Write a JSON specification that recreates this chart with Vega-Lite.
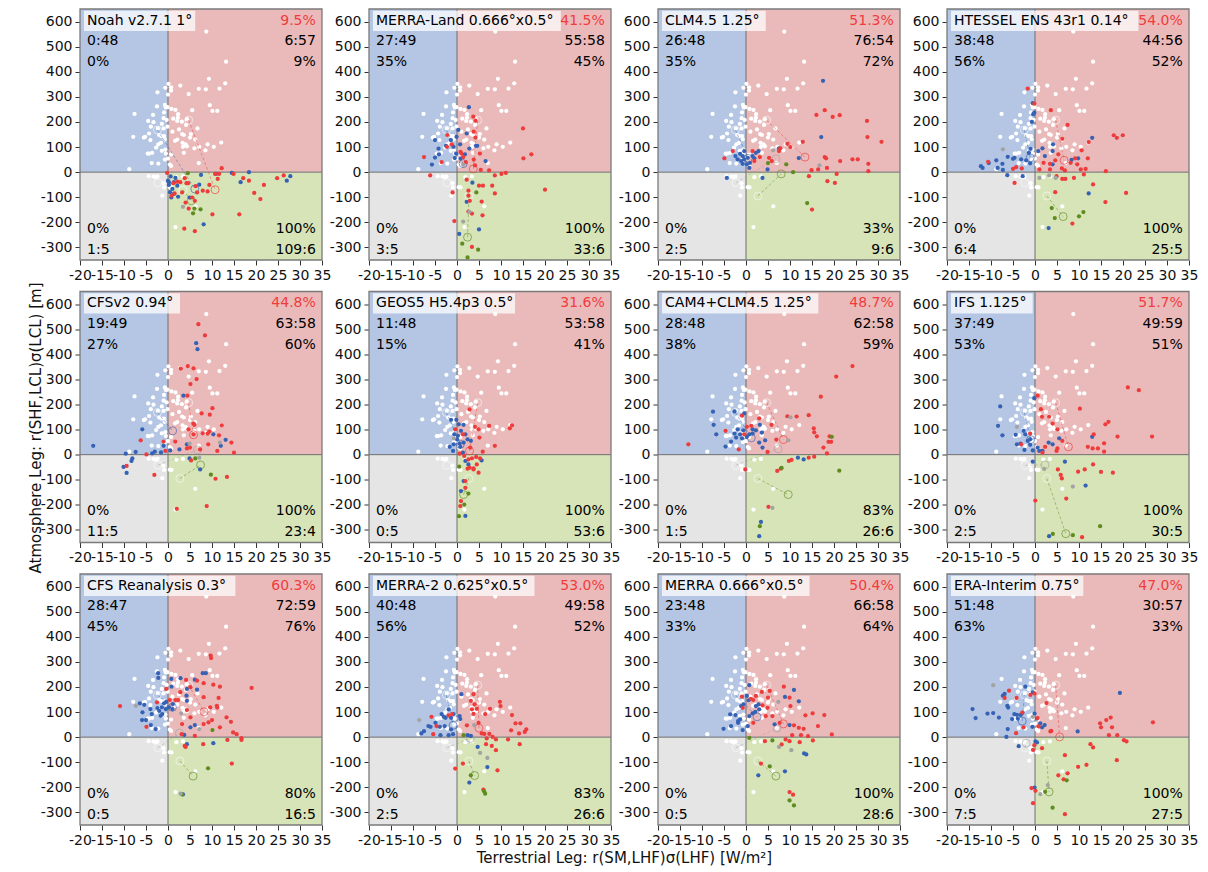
{
"$schema":"https://vega.github.io/schema/vega-lite/v6.json",
"padding":{"left":28,"top":8,"right":5,"bottom":5},
"background":"white",
"title":{"text":"Terrestrial Leg: r(SM,LHF)σ(LHF) [W/m²]","orient":"bottom","anchor":"middle","fontSize":15,"fontWeight":"normal","font":"DejaVu Sans","color":"#111","offset":4,"dx":11},
"data":{"values":[
{"ps":[1],"k":"a","n":"Noah v2.7.1 1°","rp":"9.5%","a1":"0:48","a2":"0%","b1":"6:57","b2":"9%","c1":"0%","c2":"1:5","d1":"100%","d2":"109:6"},
{"ps":[2],"k":"a","n":"MERRA-Land 0.666°x0.5°","rp":"41.5%","a1":"27:49","a2":"35%","b1":"55:58","b2":"45%","c1":"0%","c2":"3:5","d1":"100%","d2":"33:6"},
{"ps":[3],"k":"a","n":"CLM4.5 1.25°","rp":"51.3%","a1":"26:48","a2":"35%","b1":"76:54","b2":"72%","c1":"0%","c2":"2:5","d1":"33%","d2":"9:6"},
{"ps":[4],"k":"a","n":"HTESSEL ENS 43r1 0.14°","rp":"54.0%","a1":"38:48","a2":"56%","b1":"44:56","b2":"52%","c1":"0%","c2":"6:4","d1":"100%","d2":"25:5"},
{"ps":[5],"k":"a","n":"CFSv2 0.94°","rp":"44.8%","a1":"19:49","a2":"27%","b1":"63:58","b2":"60%","c1":"0%","c2":"11:5","d1":"100%","d2":"23:4"},
{"ps":[6],"k":"a","n":"GEOS5 H5.4p3 0.5°","rp":"31.6%","a1":"11:48","a2":"15%","b1":"53:58","b2":"41%","c1":"0%","c2":"0:5","d1":"100%","d2":"53:6"},
{"ps":[7],"k":"a","n":"CAM4+CLM4.5 1.25°","rp":"48.7%","a1":"28:48","a2":"38%","b1":"62:58","b2":"59%","c1":"0%","c2":"1:5","d1":"83%","d2":"26:6"},
{"ps":[8],"k":"a","n":"IFS 1.125°","rp":"51.7%","a1":"37:49","a2":"53%","b1":"49:59","b2":"51%","c1":"0%","c2":"2:5","d1":"100%","d2":"30:5"},
{"ps":[9],"k":"a","n":"CFS Reanalysis 0.3°","rp":"60.3%","a1":"28:47","a2":"45%","b1":"72:59","b2":"76%","c1":"0%","c2":"0:5","d1":"80%","d2":"16:5"},
{"ps":[10],"k":"a","n":"MERRA-2 0.625°x0.5°","rp":"53.0%","a1":"40:48","a2":"56%","b1":"49:58","b2":"52%","c1":"0%","c2":"2:5","d1":"83%","d2":"26:6"},
{"ps":[11],"k":"a","n":"MERRA 0.666°x0.5°","rp":"50.4%","a1":"23:48","a2":"33%","b1":"66:58","b2":"64%","c1":"0%","c2":"0:5","d1":"100%","d2":"28:6"},
{"ps":[12],"k":"a","n":"ERA-Interim 0.75°","rp":"47.0%","a1":"51:48","a2":"63%","b1":"30:57","b2":"33%","c1":"0%","c2":"7:5","d1":"100%","d2":"27:5"},
{"ps":[1,2,3,4,5,6,7,8,9,10,11,12],"k":"w","x":8.7,"y":560},{"ps":[1,2,3,4,5,6,7,8,9,10,11,12],"k":"w","x":13.2,"y":440},{"ps":[1,2,3,4,5,6,7,8,9,10,11,12],"k":"w","x":9.3,"y":372},{"ps":[1,2,3,4,5,6,7,8,9,10,11,12],"k":"w","x":13.0,"y":354},{"ps":[1,2,3,4,5,6,7,8,9,10,11,12],"k":"w","x":11.7,"y":333},{"ps":[1,2,3,4,5,6,7,8,9,10,11,12],"k":"w","x":7.0,"y":332},{"ps":[1,2,3,4,5,6,7,8,9,10,11,12],"k":"w","x":8.6,"y":330},{"ps":[1,2,3,4,5,6,7,8,9,10,11,12],"k":"w","x":2.8,"y":345},{"ps":[1,2,3,4,5,6,7,8,9,10,11,12],"k":"w","x":0.1,"y":352},{"ps":[1,2,3,4,5,6,7,8,9,10,11,12],"k":"w","x":0.7,"y":338},
{"ps":[1,2,3,4,5,6,7,8,9,10,11,12],"k":"w","x":-0.6,"y":336},{"ps":[1,2,3,4,5,6,7,8,9,10,11,12],"k":"w","x":-2.4,"y":318},{"ps":[1,2,3,4,5,6,7,8,9,10,11,12],"k":"w","x":0.0,"y":309},{"ps":[1,2,3,4,5,6,7,8,9,10,11,12],"k":"w","x":4.7,"y":311},{"ps":[1,2,3,4,5,6,7,8,9,10,11,12],"k":"w","x":0.7,"y":325},{"ps":[1,2,3,4,5,6,7,8,9,10,11,12],"k":"w","x":9.5,"y":267},{"ps":[1,2,3,4,5,6,7,8,9,10,11,12],"k":"w","x":10.1,"y":244},{"ps":[1,2,3,4,5,6,7,8,9,10,11,12],"k":"w","x":11.2,"y":244},{"ps":[1,2,3,4,5,6,7,8,9,10,11,12],"k":"w","x":-7.6,"y":232},{"ps":[1,2,3,4,5,6,7,8,9,10,11,12],"k":"w","x":-2.5,"y":262},
{"ps":[1,2,3,4,5,6,7,8,9,10,11,12],"k":"w","x":-0.7,"y":268},{"ps":[1,2,3,4,5,6,7,8,9,10,11,12],"k":"w","x":-0.5,"y":258},{"ps":[1,2,3,4,5,6,7,8,9,10,11,12],"k":"w","x":-0.1,"y":259},{"ps":[1,2,3,4,5,6,7,8,9,10,11,12],"k":"w","x":-3.4,"y":228},{"ps":[1,2,3,4,5,6,7,8,9,10,11,12],"k":"w","x":-0.9,"y":238},{"ps":[1,2,3,4,5,6,7,8,9,10,11,12],"k":"w","x":0.8,"y":252},{"ps":[1,2,3,4,5,6,7,8,9,10,11,12],"k":"w","x":1.7,"y":248},{"ps":[1,2,3,4,5,6,7,8,9,10,11,12],"k":"w","x":2.3,"y":231},{"ps":[1,2,3,4,5,6,7,8,9,10,11,12],"k":"w","x":5.5,"y":247},{"ps":[1,2,3,4,5,6,7,8,9,10,11,12],"k":"w","x":-1.0,"y":215},
{"ps":[1,2,3,4,5,6,7,8,9,10,11,12],"k":"w","x":-0.3,"y":208},{"ps":[1,2,3,4,5,6,7,8,9,10,11,12],"k":"w","x":-4.5,"y":204},{"ps":[1,2,3,4,5,6,7,8,9,10,11,12],"k":"w","x":-3.3,"y":199},{"ps":[1,2,3,4,5,6,7,8,9,10,11,12],"k":"w","x":-3.9,"y":181},{"ps":[1,2,3,4,5,6,7,8,9,10,11,12],"k":"w","x":1.2,"y":213},{"ps":[1,2,3,4,5,6,7,8,9,10,11,12],"k":"w","x":2.1,"y":204},{"ps":[1,2,3,4,5,6,7,8,9,10,11,12],"k":"w","x":4.3,"y":211},{"ps":[1,2,3,4,5,6,7,8,9,10,11,12],"k":"w","x":4.1,"y":188},{"ps":[1,2,3,4,5,6,7,8,9,10,11,12],"k":"w","x":-2.3,"y":174},{"ps":[1,2,3,4,5,6,7,8,9,10,11,12],"k":"w","x":-1.4,"y":192},
{"ps":[1,2,3,4,5,6,7,8,9,10,11,12],"k":"w","x":-1.0,"y":174},{"ps":[1,2,3,4,5,6,7,8,9,10,11,12],"k":"w","x":-0.1,"y":181},{"ps":[1,2,3,4,5,6,7,8,9,10,11,12],"k":"w","x":2.5,"y":170},{"ps":[1,2,3,4,5,6,7,8,9,10,11,12],"k":"w","x":1.0,"y":161},{"ps":[1,2,3,4,5,6,7,8,9,10,11,12],"k":"w","x":-4.3,"y":154},{"ps":[1,2,3,4,5,6,7,8,9,10,11,12],"k":"w","x":-5.2,"y":141},{"ps":[1,2,3,4,5,6,7,8,9,10,11,12],"k":"w","x":-5.5,"y":138},{"ps":[1,2,3,4,5,6,7,8,9,10,11,12],"k":"w","x":-7.9,"y":141},{"ps":[1,2,3,4,5,6,7,8,9,10,11,12],"k":"w","x":-2.0,"y":148},{"ps":[1,2,3,4,5,6,7,8,9,10,11,12],"k":"w","x":-0.9,"y":144},
{"ps":[1,2,3,4,5,6,7,8,9,10,11,12],"k":"w","x":3.2,"y":152},{"ps":[1,2,3,4,5,6,7,8,9,10,11,12],"k":"w","x":3.6,"y":148},{"ps":[1,2,3,4,5,6,7,8,9,10,11,12],"k":"w","x":5.2,"y":152},{"ps":[1,2,3,4,5,6,7,8,9,10,11,12],"k":"w","x":6.7,"y":174},{"ps":[1,2,3,4,5,6,7,8,9,10,11,12],"k":"w","x":5.0,"y":138},{"ps":[1,2,3,4,5,6,7,8,9,10,11,12],"k":"w","x":6.2,"y":130},{"ps":[1,2,3,4,5,6,7,8,9,10,11,12],"k":"w","x":-4.0,"y":128},{"ps":[1,2,3,4,5,6,7,8,9,10,11,12],"k":"w","x":1.6,"y":125},{"ps":[1,2,3,4,5,6,7,8,9,10,11,12],"k":"w","x":2.1,"y":130},{"ps":[1,2,3,4,5,6,7,8,9,10,11,12],"k":"w","x":-2.7,"y":98},
{"ps":[1,2,3,4,5,6,7,8,9,10,11,12],"k":"w","x":-2.2,"y":111},{"ps":[1,2,3,4,5,6,7,8,9,10,11,12],"k":"w","x":-1.6,"y":117},{"ps":[1,2,3,4,5,6,7,8,9,10,11,12],"k":"w","x":-1.4,"y":85},{"ps":[1,2,3,4,5,6,7,8,9,10,11,12],"k":"w","x":-0.6,"y":90},{"ps":[1,2,3,4,5,6,7,8,9,10,11,12],"k":"w","x":-0.5,"y":74},{"ps":[1,2,3,4,5,6,7,8,9,10,11,12],"k":"w","x":-4.6,"y":74},{"ps":[1,2,3,4,5,6,7,8,9,10,11,12],"k":"w","x":-4.3,"y":74},{"ps":[1,2,3,4,5,6,7,8,9,10,11,12],"k":"w","x":3.4,"y":101},{"ps":[1,2,3,4,5,6,7,8,9,10,11,12],"k":"w","x":4.3,"y":103},{"ps":[1,2,3,4,5,6,7,8,9,10,11,12],"k":"w","x":7.1,"y":101},
{"ps":[1,2,3,4,5,6,7,8,9,10,11,12],"k":"w","x":8.5,"y":87},{"ps":[1,2,3,4,5,6,7,8,9,10,11,12],"k":"w","x":9.0,"y":111},{"ps":[1,2,3,4,5,6,7,8,9,10,11,12],"k":"w","x":12.1,"y":118},{"ps":[1,2,3,4,5,6,7,8,9,10,11,12],"k":"w","x":3.6,"y":77},{"ps":[1,2,3,4,5,6,7,8,9,10,11,12],"k":"w","x":0.7,"y":70},{"ps":[1,2,3,4,5,6,7,8,9,10,11,12],"k":"w","x":-3.7,"y":36},{"ps":[1,2,3,4,5,6,7,8,9,10,11,12],"k":"w","x":-2.2,"y":34},{"ps":[1,2,3,4,5,6,7,8,9,10,11,12],"k":"w","x":-0.7,"y":50},{"ps":[1,2,3,4,5,6,7,8,9,10,11,12],"k":"w","x":0.0,"y":54},{"ps":[1,2,3,4,5,6,7,8,9,10,11,12],"k":"w","x":-8.8,"y":12},
{"ps":[1,2,3,4,5,6,7,8,9,10,11,12],"k":"w","x":7.0,"y":36},{"ps":[1,2,3,4,5,6,7,8,9,10,11,12],"k":"w","x":0.4,"y":30},{"ps":[1,2,3,4,5,6,7,8,9,10,11,12],"k":"w","x":0.7,"y":25},{"ps":[1,2,3,4,5,6,7,8,9,10,11,12],"k":"w","x":-4.4,"y":-16},{"ps":[1,2,3,4,5,6,7,8,9,10,11,12],"k":"w","x":-3.3,"y":-17},{"ps":[1,2,3,4,5,6,7,8,9,10,11,12],"k":"w","x":-2.4,"y":-17},{"ps":[1,2,3,4,5,6,7,8,9,10,11,12],"k":"w","x":-1.0,"y":-44},{"ps":[1,2,3,4,5,6,7,8,9,10,11,12],"k":"w","x":-1.3,"y":-94},{"ps":[1,2,3,4,5,6,7,8,9,10,11,12],"k":"w","x":1.7,"y":-219},{"ps":[1,2,3,4,5,6,7,8,9,10,11,12],"k":"w","x":0.4,"y":-60},
{"ps":[1,2,3,4,5,6,7,8,9,10,11,12],"k":"w","x":1.9,"y":-20},{"ps":[1,2,3,4,5,6,7,8,9,10,11,12],"k":"w","x":3.4,"y":-17},{"ps":[1,2,3,4,5,6,7,8,9,10,11,12],"k":"w","x":6.2,"y":-136},{"ps":[1,2,3,4,5,6,7,8,9,10,11,12],"k":"w","x":-0.9,"y":-61},{"ps":[1,2,3,4,5,6,7,8,9,10,11,12],"k":"w","x":0.8,"y":-61},{"ps":[1,2,3,4,5,6,7,8,9,10,11,12],"k":"w","x":-3.6,"y":77},{"ps":[1,2,3,4,5,6,7,8,9,10,11,12],"k":"w","x":-0.75,"y":131},{"ps":[1,2,3,4,5,6,7,8,9,10,11,12],"k":"w","x":-1.5,"y":144},{"ps":[1,2,3,4,5,6,7,8,9,10,11,12],"k":"w","x":2.25,"y":217},{"ps":[1,2,3,4,5,6,7,8,9,10,11,12],"k":"w","x":3.15,"y":201},
{"ps":[1,2,3,4,5,6,7,8,9,10,11,12],"k":"w","x":3.3,"y":117},{"ps":[1,2,3,4,5,6,7,8,9,10,11,12],"k":"w","x":4.0,"y":111},{"ps":[1,2,3,4,5,6,7,8,9,10,11,12],"k":"w","x":6.0,"y":95},{"ps":[1,2,3,4,5,6,7,8,9,10,11,12],"k":"w","x":10.4,"y":101},{"ps":[1,2,3,4,5,6,7,8,9,10,11,12],"k":"w","x":-2.8,"y":-20},
{"ps":[1,2,3,4,5,6,7,8,9,10,11,12],"k":"c","m":"o","cl":"b","x":-2.4,"y":168},{"ps":[1,2,3,4,5,6,7,8,9,10,11,12],"k":"c","m":"o","cl":"r","x":4.7,"y":207},{"ps":[1,2,3,4,5,6,7,8,9,10,11,12],"k":"c","m":"o","cl":"k","x":-2.3,"y":-42},{"ps":[2,3,4,5,6,7,8,9,10,11,12],"k":"c","m":"o","cl":"g","x":2.7,"y":-95},{"ps":[1],"k":"c","m":"o","cl":"g","x":3.4,"y":-71},
{"ps":[1],"k":"c","m":"m","cl":"b","x":6.1,"y":-67},{"ps":[1],"k":"c","m":"m","cl":"r","x":10.7,"y":-70},{"ps":[1],"k":"c","m":"m","cl":"g","x":5.3,"y":-114},
{"ps":[2],"k":"c","m":"m","cl":"b","x":1.4,"y":34},{"ps":[2],"k":"c","m":"m","cl":"r","x":3.7,"y":13},{"ps":[2],"k":"c","m":"m","cl":"g","x":2.4,"y":-259},
{"ps":[3],"k":"c","m":"m","cl":"b","x":0.5,"y":55},{"ps":[3],"k":"c","m":"m","cl":"r","x":13.4,"y":60},{"ps":[3],"k":"c","m":"m","cl":"g","x":8.0,"y":-7},{"ps":[3],"k":"c","m":"m","cl":"k","x":6.8,"y":53},
{"ps":[4],"k":"c","m":"m","cl":"b","x":-1.1,"y":57},{"ps":[4],"k":"c","m":"m","cl":"r","x":6.6,"y":47},{"ps":[4],"k":"c","m":"m","cl":"g","x":6.4,"y":-177},
{"ps":[5],"k":"c","m":"m","cl":"b","x":1.05,"y":95},{"ps":[5],"k":"c","m":"m","cl":"r","x":5.8,"y":79},{"ps":[5],"k":"c","m":"m","cl":"g","x":7.4,"y":-41},{"ps":[5],"k":"c","m":"m","cl":"k","x":6.7,"y":19},
{"ps":[6],"k":"c","m":"m","cl":"b","x":0.75,"y":41},{"ps":[6],"k":"c","m":"m","cl":"r","x":2.85,"y":15},{"ps":[6],"k":"c","m":"m","cl":"g","x":1.5,"y":-159},
{"ps":[7],"k":"c","m":"m","cl":"b","x":1.2,"y":67},{"ps":[7],"k":"c","m":"m","cl":"r","x":8.5,"y":60},{"ps":[7],"k":"c","m":"m","cl":"g","x":9.6,"y":-159},{"ps":[7],"k":"c","m":"m","cl":"k","x":7.3,"y":23},
{"ps":[8],"k":"c","m":"m","cl":"b","x":-1.0,"y":60},{"ps":[8],"k":"c","m":"m","cl":"r","x":7.6,"y":31},{"ps":[8],"k":"c","m":"m","cl":"g","x":7.0,"y":-315},{"ps":[8],"k":"c","m":"m","cl":"k","x":2.25,"y":-41},
{"ps":[9],"k":"c","m":"m","cl":"b","x":1.0,"y":119},{"ps":[9],"k":"c","m":"m","cl":"r","x":8.2,"y":101},{"ps":[9],"k":"c","m":"m","cl":"g","x":5.7,"y":-155},{"ps":[9],"k":"c","m":"m","cl":"k","x":2.6,"y":16},
{"ps":[10],"k":"c","m":"m","cl":"b","x":-0.9,"y":47},{"ps":[10],"k":"c","m":"m","cl":"r","x":5.0,"y":36},{"ps":[10],"k":"c","m":"m","cl":"g","x":4.0,"y":-153},{"ps":[10],"k":"c","m":"m","cl":"k","x":3.0,"y":-5},
{"ps":[11],"k":"c","m":"m","cl":"b","x":2.5,"y":81},{"ps":[11],"k":"c","m":"m","cl":"r","x":8.5,"y":53},{"ps":[11],"k":"c","m":"m","cl":"g","x":6.8,"y":-155},{"ps":[11],"k":"c","m":"m","cl":"k","x":7.1,"y":36},
{"ps":[12],"k":"c","m":"m","cl":"b","x":-2.9,"y":64},{"ps":[12],"k":"c","m":"m","cl":"r","x":5.6,"y":1},{"ps":[12],"k":"c","m":"m","cl":"g","x":3.2,"y":-218},{"ps":[12],"k":"c","m":"m","cl":"k","x":-2.0,"y":-24},
{"ps":[1],"k":"p","cl":"b","x":0,"y":-34},{"ps":[1],"k":"p","cl":"b","x":0.2,"y":-51},{"ps":[1],"k":"p","cl":"b","x":0.45,"y":-80},{"ps":[1],"k":"p","cl":"b","x":0.75,"y":-101},{"ps":[1],"k":"p","cl":"b","x":1,"y":-67},{"ps":[1],"k":"p","cl":"b","x":1.35,"y":-87},{"ps":[1],"k":"p","cl":"b","x":2.1,"y":-54},{"ps":[1],"k":"p","cl":"b","x":2.3,"y":-98},{"ps":[1],"k":"p","cl":"b","x":0.6,"y":-17},{"ps":[1],"k":"p","cl":"b","x":1.7,"y":-23},{"ps":[1],"k":"p","cl":"b","x":4.9,"y":-101},{"ps":[1],"k":"p","cl":"b","x":7.1,"y":-50},{"ps":[1],"k":"p","cl":"b","x":7.5,"y":-11},{"ps":[1],"k":"p","cl":"b","x":8.1,"y":-208},{"ps":[1],"k":"p","cl":"b","x":10.9,"y":-7},{"ps":[1],"k":"p","cl":"b","x":14.5,"y":-3},{"ps":[1],"k":"p","cl":"b","x":16.5,"y":-40},{"ps":[1],"k":"p","cl":"b","x":18.4,"y":0},{"ps":[1],"k":"p","cl":"b","x":27,"y":-34},{"ps":[1],"k":"p","cl":"b","x":27.8,"y":-16},{"ps":[1],"k":"p","cl":"b","x":0.2,"y":-40},{"ps":[1],"k":"p","cl":"b","x":1.35,"y":-40},
{"ps":[1],"k":"p","cl":"r","x":-0.2,"y":-3},{"ps":[1],"k":"p","cl":"r","x":1.2,"y":-44},{"ps":[1],"k":"p","cl":"r","x":1.5,"y":-85},{"ps":[1],"k":"p","cl":"r","x":0.8,"y":-94},{"ps":[1],"k":"p","cl":"r","x":2.1,"y":-38},{"ps":[1],"k":"p","cl":"r","x":2.8,"y":-40},{"ps":[1],"k":"p","cl":"r","x":3.8,"y":-24},{"ps":[1],"k":"p","cl":"r","x":4.2,"y":-44},{"ps":[1],"k":"p","cl":"r","x":4.6,"y":-44},{"ps":[1],"k":"p","cl":"r","x":4,"y":-121},{"ps":[1],"k":"p","cl":"r","x":5.5,"y":-101},{"ps":[1],"k":"p","cl":"r","x":6.3,"y":-56},{"ps":[1],"k":"p","cl":"r","x":6.6,"y":-81},{"ps":[1],"k":"p","cl":"r","x":7.9,"y":-74},{"ps":[1],"k":"p","cl":"r","x":9,"y":-77},{"ps":[1],"k":"p","cl":"r","x":9.4,"y":-51},{"ps":[1],"k":"p","cl":"r","x":10.1,"y":-168},{"ps":[1],"k":"p","cl":"r","x":10.7,"y":-7},{"ps":[1],"k":"p","cl":"r","x":11.3,"y":-27},{"ps":[1],"k":"p","cl":"r","x":11.6,"y":-7},{"ps":[1],"k":"p","cl":"r","x":12.2,"y":16},{"ps":[1],"k":"p","cl":"r","x":14.9,"y":-7},{"ps":[1],"k":"p","cl":"r","x":17.1,"y":-24},{"ps":[1],"k":"p","cl":"r","x":18.4,"y":-34},{"ps":[1],"k":"p","cl":"r","x":19.6,"y":-83},{"ps":[1],"k":"p","cl":"r","x":21,"y":-107},{"ps":[1],"k":"p","cl":"r","x":21.8,"y":-51},{"ps":[1],"k":"p","cl":"r","x":24.8,"y":-24},{"ps":[1],"k":"p","cl":"r","x":26.3,"y":-13},{"ps":[1],"k":"p","cl":"r","x":16.2,"y":-168},{"ps":[1],"k":"p","cl":"r","x":3.7,"y":-225},{"ps":[1],"k":"p","cl":"r","x":6.1,"y":-235},{"ps":[1],"k":"p","cl":"r","x":4.7,"y":-145},{"ps":[1],"k":"p","cl":"r","x":6.1,"y":-114},{"ps":[1],"k":"p","cl":"r","x":3.2,"y":-81},
{"ps":[1],"k":"p","cl":"g","x":4.5,"y":-4},{"ps":[1],"k":"p","cl":"g","x":5.7,"y":-164},{"ps":[1],"k":"p","cl":"g","x":7.4,"y":-148},{"ps":[1],"k":"p","cl":"g","x":6,"y":-145},{"ps":[1],"k":"p","cl":"k","x":3.4,"y":-138},
{"ps":[2],"k":"p","cl":"b","x":2.7,"y":259},{"ps":[2],"k":"p","cl":"b","x":0.3,"y":168},{"ps":[2],"k":"p","cl":"b","x":2.2,"y":154},{"ps":[2],"k":"p","cl":"b","x":-5.7,"y":30},{"ps":[2],"k":"p","cl":"b","x":-5,"y":58},{"ps":[2],"k":"p","cl":"b","x":-4.1,"y":71},{"ps":[2],"k":"p","cl":"b","x":-5,"y":128},{"ps":[2],"k":"p","cl":"b","x":-4.2,"y":94},{"ps":[2],"k":"p","cl":"b","x":-2.5,"y":105},{"ps":[2],"k":"p","cl":"b","x":-0.8,"y":101},{"ps":[2],"k":"p","cl":"b","x":-0.1,"y":141},{"ps":[2],"k":"p","cl":"b","x":0.7,"y":111},{"ps":[2],"k":"p","cl":"b","x":-0.2,"y":74},{"ps":[2],"k":"p","cl":"b","x":1.8,"y":71},{"ps":[2],"k":"p","cl":"b","x":2.8,"y":94},{"ps":[2],"k":"p","cl":"b","x":4.6,"y":105},{"ps":[2],"k":"p","cl":"b","x":6.5,"y":44},{"ps":[2],"k":"p","cl":"b","x":0.8,"y":54},{"ps":[2],"k":"p","cl":"b","x":3.5,"y":-42},{"ps":[2],"k":"p","cl":"b","x":2.2,"y":-118},{"ps":[2],"k":"p","cl":"b","x":0.5,"y":-246},{"ps":[2],"k":"p","cl":"b","x":5,"y":-228},{"ps":[2],"k":"p","cl":"b","x":4.3,"y":105},{"ps":[2],"k":"p","cl":"b","x":-1.4,"y":128},{"ps":[2],"k":"p","cl":"b","x":-0.5,"y":56},
{"ps":[2],"k":"p","cl":"r","x":-7.5,"y":60},{"ps":[2],"k":"p","cl":"r","x":-6.1,"y":-13},{"ps":[2],"k":"p","cl":"r","x":-3.5,"y":40},{"ps":[2],"k":"p","cl":"r","x":-2.3,"y":101},{"ps":[2],"k":"p","cl":"r","x":-2.2,"y":148},{"ps":[2],"k":"p","cl":"r","x":-1.2,"y":111},{"ps":[2],"k":"p","cl":"r","x":0.8,"y":81},{"ps":[2],"k":"p","cl":"r","x":1,"y":74},{"ps":[2],"k":"p","cl":"r","x":1.4,"y":60},{"ps":[2],"k":"p","cl":"r","x":2,"y":40},{"ps":[2],"k":"p","cl":"r","x":3.7,"y":221},{"ps":[2],"k":"p","cl":"r","x":4.2,"y":205},{"ps":[2],"k":"p","cl":"r","x":3.8,"y":161},{"ps":[2],"k":"p","cl":"r","x":4.2,"y":138},{"ps":[2],"k":"p","cl":"r","x":3.8,"y":50},{"ps":[2],"k":"p","cl":"r","x":4.1,"y":27},{"ps":[2],"k":"p","cl":"r","x":5.4,"y":9},{"ps":[2],"k":"p","cl":"r","x":5.2,"y":74},{"ps":[2],"k":"p","cl":"r","x":7.3,"y":7},{"ps":[2],"k":"p","cl":"r","x":8.6,"y":-13},{"ps":[2],"k":"p","cl":"r","x":10.1,"y":-7},{"ps":[2],"k":"p","cl":"r","x":11.1,"y":-3},{"ps":[2],"k":"p","cl":"r","x":15,"y":174},{"ps":[2],"k":"p","cl":"r","x":15.1,"y":55},{"ps":[2],"k":"p","cl":"r","x":16.9,"y":71},{"ps":[2],"k":"p","cl":"r","x":20,"y":-70},{"ps":[2],"k":"p","cl":"r","x":2.2,"y":-30},{"ps":[2],"k":"p","cl":"r","x":2.6,"y":-74},{"ps":[2],"k":"p","cl":"r","x":2.6,"y":-94},{"ps":[2],"k":"p","cl":"r","x":2.9,"y":-114},{"ps":[2],"k":"p","cl":"r","x":3.4,"y":-165},{"ps":[2],"k":"p","cl":"r","x":2.6,"y":-157},{"ps":[2],"k":"p","cl":"r","x":5.8,"y":-172},{"ps":[2],"k":"p","cl":"r","x":5.6,"y":-117},{"ps":[2],"k":"p","cl":"r","x":5,"y":-54},{"ps":[2],"k":"p","cl":"r","x":5.9,"y":-54},{"ps":[2],"k":"p","cl":"r","x":8,"y":-54},{"ps":[2],"k":"p","cl":"r","x":8.6,"y":-85},{"ps":[2],"k":"p","cl":"r","x":-0.6,"y":-195},{"ps":[2],"k":"p","cl":"r","x":3.4,"y":-298},{"ps":[2],"k":"p","cl":"r","x":-1,"y":-81},
{"ps":[2],"k":"p","cl":"g","x":4.4,"y":-81},{"ps":[2],"k":"p","cl":"g","x":1.2,"y":-285},{"ps":[2],"k":"p","cl":"g","x":4.8,"y":-309},{"ps":[2],"k":"p","cl":"g","x":2.4,"y":-340},{"ps":[2],"k":"p","cl":"k","x":1.4,"y":30},{"ps":[2],"k":"p","cl":"k","x":1.4,"y":-197},{"ps":[2],"k":"p","cl":"k","x":2.8,"y":-158},
{"ps":[3],"k":"p","cl":"b","x":17.5,"y":364},{"ps":[3],"k":"p","cl":"b","x":17.1,"y":140},{"ps":[3],"k":"p","cl":"b","x":12,"y":56},{"ps":[3],"k":"p","cl":"b","x":7.5,"y":95},{"ps":[3],"k":"p","cl":"b","x":4.9,"y":11},{"ps":[3],"k":"p","cl":"b","x":3.75,"y":-23},{"ps":[3],"k":"p","cl":"b","x":-4.35,"y":-23},{"ps":[3],"k":"p","cl":"b","x":-1.9,"y":51},{"ps":[3],"k":"p","cl":"b","x":-1.1,"y":44},{"ps":[3],"k":"p","cl":"b","x":-0.75,"y":64},{"ps":[3],"k":"p","cl":"b","x":-0.4,"y":84},{"ps":[3],"k":"p","cl":"b","x":0.4,"y":57},{"ps":[3],"k":"p","cl":"b","x":0.9,"y":37},{"ps":[3],"k":"p","cl":"b","x":1.5,"y":64},{"ps":[3],"k":"p","cl":"b","x":2.25,"y":77},{"ps":[3],"k":"p","cl":"b","x":2.85,"y":84},{"ps":[3],"k":"p","cl":"b","x":0.2,"y":31},{"ps":[3],"k":"p","cl":"b","x":-0.75,"y":33},{"ps":[3],"k":"p","cl":"b","x":-2.4,"y":64},{"ps":[3],"k":"p","cl":"b","x":0.75,"y":17},{"ps":[3],"k":"p","cl":"b","x":1.9,"y":55},{"ps":[3],"k":"p","cl":"b","x":-0.4,"y":51},{"ps":[3],"k":"p","cl":"b","x":-1.35,"y":73},
{"ps":[3],"k":"p","cl":"r","x":17.9,"y":247},{"ps":[3],"k":"p","cl":"r","x":16,"y":228},{"ps":[3],"k":"p","cl":"r","x":19.7,"y":220},{"ps":[3],"k":"p","cl":"r","x":21.3,"y":227},{"ps":[3],"k":"p","cl":"r","x":27.5,"y":204},{"ps":[3],"k":"p","cl":"r","x":27.6,"y":140},{"ps":[3],"k":"p","cl":"r","x":30.8,"y":121},{"ps":[3],"k":"p","cl":"r","x":12.9,"y":121},{"ps":[3],"k":"p","cl":"r","x":10.1,"y":100},{"ps":[3],"k":"p","cl":"r","x":9.4,"y":113},{"ps":[3],"k":"p","cl":"r","x":7.8,"y":95},{"ps":[3],"k":"p","cl":"r","x":17.9,"y":60},{"ps":[3],"k":"p","cl":"r","x":18.2,"y":55},{"ps":[3],"k":"p","cl":"r","x":21.4,"y":44},{"ps":[3],"k":"p","cl":"r","x":24.2,"y":51},{"ps":[3],"k":"p","cl":"r","x":25.4,"y":51},{"ps":[3],"k":"p","cl":"r","x":27.8,"y":33},{"ps":[3],"k":"p","cl":"r","x":27.8,"y":4},{"ps":[3],"k":"p","cl":"r","x":20.6,"y":-7},{"ps":[3],"k":"p","cl":"r","x":18.5,"y":-36},{"ps":[3],"k":"p","cl":"r","x":20.2,"y":-43},{"ps":[3],"k":"p","cl":"r","x":18.4,"y":17},{"ps":[3],"k":"p","cl":"r","x":16.4,"y":11},{"ps":[3],"k":"p","cl":"r","x":14.9,"y":8},{"ps":[3],"k":"p","cl":"r","x":14.3,"y":-16},{"ps":[3],"k":"p","cl":"r","x":15,"y":-149},{"ps":[3],"k":"p","cl":"r","x":1.9,"y":44},{"ps":[3],"k":"p","cl":"r","x":3.15,"y":60},{"ps":[3],"k":"p","cl":"r","x":-3,"y":84},{"ps":[3],"k":"p","cl":"r","x":-4.9,"y":55},{"ps":[3],"k":"p","cl":"r","x":5.25,"y":57},{"ps":[3],"k":"p","cl":"r","x":5.85,"y":44},{"ps":[3],"k":"p","cl":"r","x":7.5,"y":84},{"ps":[3],"k":"p","cl":"r","x":1.5,"y":84},
{"ps":[3],"k":"p","cl":"g","x":5,"y":36},{"ps":[3],"k":"p","cl":"g","x":9.15,"y":31},{"ps":[3],"k":"p","cl":"g","x":10.7,"y":0},{"ps":[3],"k":"p","cl":"g","x":13.9,"y":-123},{"ps":[3],"k":"p","cl":"k","x":6.15,"y":87},{"ps":[3],"k":"p","cl":"k","x":16.7,"y":27},
{"ps":[4],"k":"p","cl":"b","x":-12.3,"y":24},{"ps":[4],"k":"p","cl":"b","x":-11.9,"y":17},{"ps":[4],"k":"p","cl":"b","x":-10.5,"y":36},{"ps":[4],"k":"p","cl":"b","x":-8.8,"y":47},{"ps":[4],"k":"p","cl":"b","x":-8.5,"y":17},{"ps":[4],"k":"p","cl":"b","x":-7.3,"y":9},{"ps":[4],"k":"p","cl":"b","x":-7.4,"y":33},{"ps":[4],"k":"p","cl":"b","x":-6.2,"y":61},{"ps":[4],"k":"p","cl":"b","x":-5,"y":53},{"ps":[4],"k":"p","cl":"b","x":-6.3,"y":-12},{"ps":[4],"k":"p","cl":"b","x":-4.65,"y":57},{"ps":[4],"k":"p","cl":"b","x":-3.15,"y":51},{"ps":[4],"k":"p","cl":"b","x":-2.8,"y":-16},{"ps":[4],"k":"p","cl":"b","x":-2,"y":47},{"ps":[4],"k":"p","cl":"b","x":-1,"y":93},{"ps":[4],"k":"p","cl":"b","x":-1.4,"y":77},{"ps":[4],"k":"p","cl":"b","x":-0.5,"y":275},{"ps":[4],"k":"p","cl":"b","x":-0.4,"y":231},{"ps":[4],"k":"p","cl":"b","x":-0.15,"y":237},{"ps":[4],"k":"p","cl":"b","x":-0.7,"y":200},{"ps":[4],"k":"p","cl":"b","x":0.75,"y":84},{"ps":[4],"k":"p","cl":"b","x":1.7,"y":95},{"ps":[4],"k":"p","cl":"b","x":2.25,"y":64},{"ps":[4],"k":"p","cl":"b","x":4,"y":84},{"ps":[4],"k":"p","cl":"b","x":4.1,"y":111},{"ps":[4],"k":"p","cl":"b","x":4,"y":31},{"ps":[4],"k":"p","cl":"b","x":8.3,"y":49},{"ps":[4],"k":"p","cl":"b","x":9.8,"y":55},{"ps":[4],"k":"p","cl":"b","x":13,"y":137},{"ps":[4],"k":"p","cl":"b","x":12.2,"y":-85},{"ps":[4],"k":"p","cl":"b","x":3.1,"y":-223},{"ps":[4],"k":"p","cl":"b","x":-1.1,"y":35},
{"ps":[4],"k":"p","cl":"r","x":-1.65,"y":333},{"ps":[4],"k":"p","cl":"r","x":-0.15,"y":273},{"ps":[4],"k":"p","cl":"r","x":3.6,"y":247},{"ps":[4],"k":"p","cl":"r","x":7.4,"y":188},{"ps":[4],"k":"p","cl":"r","x":6.2,"y":133},{"ps":[4],"k":"p","cl":"r","x":12.2,"y":120},{"ps":[4],"k":"p","cl":"r","x":17.9,"y":147},{"ps":[4],"k":"p","cl":"r","x":18.6,"y":137},{"ps":[4],"k":"p","cl":"r","x":19.95,"y":147},{"ps":[4],"k":"p","cl":"r","x":-10.65,"y":41},{"ps":[4],"k":"p","cl":"r","x":-5,"y":13},{"ps":[4],"k":"p","cl":"r","x":-4.3,"y":20},{"ps":[4],"k":"p","cl":"r","x":-3,"y":15},{"ps":[4],"k":"p","cl":"r","x":-4.65,"y":-43},{"ps":[4],"k":"p","cl":"r","x":1,"y":11},{"ps":[4],"k":"p","cl":"r","x":1.95,"y":37},{"ps":[4],"k":"p","cl":"r","x":3.4,"y":33},{"ps":[4],"k":"p","cl":"r","x":3.4,"y":11},{"ps":[4],"k":"p","cl":"r","x":4.6,"y":47},{"ps":[4],"k":"p","cl":"r","x":5.3,"y":71},{"ps":[4],"k":"p","cl":"r","x":6.1,"y":15},{"ps":[4],"k":"p","cl":"r","x":6.8,"y":7},{"ps":[4],"k":"p","cl":"r","x":6.2,"y":-27},{"ps":[4],"k":"p","cl":"r","x":6.9,"y":-27},{"ps":[4],"k":"p","cl":"r","x":8.1,"y":37},{"ps":[4],"k":"p","cl":"r","x":9.1,"y":55},{"ps":[4],"k":"p","cl":"r","x":9.6,"y":31},{"ps":[4],"k":"p","cl":"r","x":10.6,"y":87},{"ps":[4],"k":"p","cl":"r","x":10.4,"y":11},{"ps":[4],"k":"p","cl":"r","x":11.5,"y":13},{"ps":[4],"k":"p","cl":"r","x":11.1,"y":-9},{"ps":[4],"k":"p","cl":"r","x":12,"y":55},{"ps":[4],"k":"p","cl":"r","x":13.2,"y":-49},{"ps":[4],"k":"p","cl":"r","x":16.1,"y":4},{"ps":[4],"k":"p","cl":"r","x":16,"y":-119},{"ps":[4],"k":"p","cl":"r","x":20.7,"y":-83},{"ps":[4],"k":"p","cl":"r","x":8.5,"y":-205},{"ps":[4],"k":"p","cl":"r","x":4.6,"y":-80},{"ps":[4],"k":"p","cl":"r","x":8.85,"y":-23},{"ps":[4],"k":"p","cl":"r","x":4.9,"y":-16},
{"ps":[4],"k":"p","cl":"g","x":3.8,"y":-143},{"ps":[4],"k":"p","cl":"g","x":4.5,"y":-183},{"ps":[4],"k":"p","cl":"g","x":10,"y":-176},{"ps":[4],"k":"p","cl":"g","x":11,"y":-159},{"ps":[4],"k":"p","cl":"k","x":-7.3,"y":91},{"ps":[4],"k":"p","cl":"k","x":1,"y":-23},{"ps":[4],"k":"p","cl":"k","x":3.2,"y":-13},{"ps":[4],"k":"p","cl":"k","x":4.7,"y":-23},
{"ps":[5],"k":"p","cl":"b","x":-17,"y":35},{"ps":[5],"k":"p","cl":"b","x":-9.6,"y":4},{"ps":[5],"k":"p","cl":"b","x":-7.35,"y":11},{"ps":[5],"k":"p","cl":"b","x":-8.1,"y":-15},{"ps":[5],"k":"p","cl":"b","x":-8.3,"y":-25},{"ps":[5],"k":"p","cl":"b","x":-10.1,"y":-49},{"ps":[5],"k":"p","cl":"b","x":-9.4,"y":-73},{"ps":[5],"k":"p","cl":"b","x":-5.85,"y":101},{"ps":[5],"k":"p","cl":"b","x":-3.6,"y":5},{"ps":[5],"k":"p","cl":"b","x":-3,"y":12},{"ps":[5],"k":"p","cl":"b","x":-1.6,"y":9},{"ps":[5],"k":"p","cl":"b","x":-1,"y":35},{"ps":[5],"k":"p","cl":"b","x":0.5,"y":17},{"ps":[5],"k":"p","cl":"b","x":2.6,"y":21},{"ps":[5],"k":"p","cl":"b","x":3.5,"y":235},{"ps":[5],"k":"p","cl":"b","x":4.3,"y":41},{"ps":[5],"k":"p","cl":"b","x":4.9,"y":-15},{"ps":[5],"k":"p","cl":"b","x":6.7,"y":420},{"ps":[5],"k":"p","cl":"b","x":6.4,"y":444},{"ps":[5],"k":"p","cl":"b","x":7.3,"y":-59},{"ps":[5],"k":"p","cl":"b","x":10.3,"y":81},{"ps":[5],"k":"p","cl":"b","x":12,"y":35},{"ps":[5],"k":"p","cl":"b","x":13.1,"y":59},
{"ps":[5],"k":"p","cl":"r","x":6.9,"y":520},{"ps":[5],"k":"p","cl":"r","x":8.4,"y":475},{"ps":[5],"k":"p","cl":"r","x":5.8,"y":344},{"ps":[5],"k":"p","cl":"r","x":6.5,"y":301},{"ps":[5],"k":"p","cl":"r","x":2.9,"y":343},{"ps":[5],"k":"p","cl":"r","x":4.5,"y":353},{"ps":[5],"k":"p","cl":"r","x":5.1,"y":281},{"ps":[5],"k":"p","cl":"r","x":4.4,"y":235},{"ps":[5],"k":"p","cl":"r","x":10.1,"y":185},{"ps":[5],"k":"p","cl":"r","x":9.5,"y":159},{"ps":[5],"k":"p","cl":"r","x":7.65,"y":164},{"ps":[5],"k":"p","cl":"r","x":5.8,"y":124},{"ps":[5],"k":"p","cl":"r","x":6,"y":119},{"ps":[5],"k":"p","cl":"r","x":4.65,"y":101},{"ps":[5],"k":"p","cl":"r","x":5.8,"y":81},{"ps":[5],"k":"p","cl":"r","x":7.9,"y":85},{"ps":[5],"k":"p","cl":"r","x":9,"y":84},{"ps":[5],"k":"p","cl":"r","x":9.4,"y":92},{"ps":[5],"k":"p","cl":"r","x":12.2,"y":117},{"ps":[5],"k":"p","cl":"r","x":11.6,"y":77},{"ps":[5],"k":"p","cl":"r","x":14.4,"y":48},{"ps":[5],"k":"p","cl":"r","x":15,"y":8},{"ps":[5],"k":"p","cl":"r","x":11.2,"y":15},{"ps":[5],"k":"p","cl":"r","x":9.15,"y":41},{"ps":[5],"k":"p","cl":"r","x":7.3,"y":21},{"ps":[5],"k":"p","cl":"r","x":5,"y":28},{"ps":[5],"k":"p","cl":"r","x":4.3,"y":25},{"ps":[5],"k":"p","cl":"r","x":1.65,"y":52},{"ps":[5],"k":"p","cl":"r","x":-1,"y":52},{"ps":[5],"k":"p","cl":"r","x":-6.2,"y":57},{"ps":[5],"k":"p","cl":"r","x":-4.9,"y":1},{"ps":[5],"k":"p","cl":"r","x":-9.4,"y":-45},{"ps":[5],"k":"p","cl":"r","x":-3.1,"y":-81},{"ps":[5],"k":"p","cl":"r","x":5.25,"y":-23},{"ps":[5],"k":"p","cl":"r","x":10.8,"y":-96},{"ps":[5],"k":"p","cl":"r","x":13.4,"y":-89},{"ps":[5],"k":"p","cl":"r","x":8.8,"y":-205},{"ps":[5],"k":"p","cl":"r","x":2,"y":-216},{"ps":[5],"k":"p","cl":"r","x":-0.6,"y":15},
{"ps":[5],"k":"p","cl":"g","x":6.2,"y":-15},{"ps":[5],"k":"p","cl":"g","x":9.75,"y":-80},{"ps":[5],"k":"p","cl":"k","x":4.9,"y":44},{"ps":[5],"k":"p","cl":"k","x":11.8,"y":48},{"ps":[5],"k":"p","cl":"k","x":7.1,"y":-12},
{"ps":[6],"k":"p","cl":"b","x":-1.35,"y":139},{"ps":[6],"k":"p","cl":"b","x":-0.15,"y":139},{"ps":[6],"k":"p","cl":"b","x":0.4,"y":121},{"ps":[6],"k":"p","cl":"b","x":1.5,"y":119},{"ps":[6],"k":"p","cl":"b","x":1.9,"y":81},{"ps":[6],"k":"p","cl":"b","x":0.9,"y":95},{"ps":[6],"k":"p","cl":"b","x":-0.6,"y":81},{"ps":[6],"k":"p","cl":"b","x":0,"y":61},{"ps":[6],"k":"p","cl":"b","x":0.6,"y":44},{"ps":[6],"k":"p","cl":"b","x":1.5,"y":48},{"ps":[6],"k":"p","cl":"b","x":2.4,"y":61},{"ps":[6],"k":"p","cl":"b","x":3.15,"y":55},{"ps":[6],"k":"p","cl":"b","x":-1.65,"y":31},{"ps":[6],"k":"p","cl":"b","x":-0.9,"y":15},{"ps":[6],"k":"p","cl":"b","x":0.75,"y":31},{"ps":[6],"k":"p","cl":"b","x":1.35,"y":8},{"ps":[6],"k":"p","cl":"b","x":1.9,"y":-25},{"ps":[6],"k":"p","cl":"b","x":2.6,"y":-39},{"ps":[6],"k":"p","cl":"b","x":5.6,"y":-23},{"ps":[6],"k":"p","cl":"b","x":1.5,"y":-105},{"ps":[6],"k":"p","cl":"b","x":0.9,"y":-145},{"ps":[6],"k":"p","cl":"b","x":1.9,"y":-244},{"ps":[6],"k":"p","cl":"b","x":-0.75,"y":41},{"ps":[6],"k":"p","cl":"b","x":0.2,"y":75},
{"ps":[6],"k":"p","cl":"r","x":2.85,"y":180},{"ps":[6],"k":"p","cl":"r","x":4.1,"y":111},{"ps":[6],"k":"p","cl":"r","x":4.9,"y":101},{"ps":[6],"k":"p","cl":"r","x":5.1,"y":68},{"ps":[6],"k":"p","cl":"r","x":7.3,"y":115},{"ps":[6],"k":"p","cl":"r","x":12,"y":105},{"ps":[6],"k":"p","cl":"r","x":12.5,"y":117},{"ps":[6],"k":"p","cl":"r","x":8.6,"y":35},{"ps":[6],"k":"p","cl":"r","x":5.85,"y":12},{"ps":[6],"k":"p","cl":"r","x":5.25,"y":-15},{"ps":[6],"k":"p","cl":"r","x":4.35,"y":-9},{"ps":[6],"k":"p","cl":"r","x":3.4,"y":-15},{"ps":[6],"k":"p","cl":"r","x":2.6,"y":-19},{"ps":[6],"k":"p","cl":"r","x":1.65,"y":-5},{"ps":[6],"k":"p","cl":"r","x":2.85,"y":-52},{"ps":[6],"k":"p","cl":"r","x":3.75,"y":-55},{"ps":[6],"k":"p","cl":"r","x":2.4,"y":-56},{"ps":[6],"k":"p","cl":"r","x":4.9,"y":-72},{"ps":[6],"k":"p","cl":"r","x":3,"y":28},{"ps":[6],"k":"p","cl":"r","x":1.35,"y":81},{"ps":[6],"k":"p","cl":"r","x":-0.4,"y":101},{"ps":[6],"k":"p","cl":"r","x":0.6,"y":4},{"ps":[6],"k":"p","cl":"r","x":1.9,"y":-105},{"ps":[6],"k":"p","cl":"r","x":0.9,"y":-185},{"ps":[6],"k":"p","cl":"r","x":0.75,"y":-205},{"ps":[6],"k":"p","cl":"r","x":1.9,"y":-132},{"ps":[6],"k":"p","cl":"r","x":3.75,"y":-59},{"ps":[6],"k":"p","cl":"r","x":4.5,"y":-39},
{"ps":[6],"k":"p","cl":"g","x":0.5,"y":-48},{"ps":[6],"k":"p","cl":"g","x":2.6,"y":-155},{"ps":[6],"k":"p","cl":"g","x":1.65,"y":-199},{"ps":[6],"k":"p","cl":"g","x":0.45,"y":-245},{"ps":[6],"k":"p","cl":"k","x":-0.75,"y":65},
{"ps":[7],"k":"p","cl":"b","x":-2.6,"y":172},{"ps":[7],"k":"p","cl":"b","x":-7.5,"y":171},{"ps":[7],"k":"p","cl":"b","x":-7.35,"y":119},{"ps":[7],"k":"p","cl":"b","x":-6.75,"y":81},{"ps":[7],"k":"p","cl":"b","x":-4.65,"y":32},{"ps":[7],"k":"p","cl":"b","x":-3.4,"y":52},{"ps":[7],"k":"p","cl":"b","x":-2.6,"y":84},{"ps":[7],"k":"p","cl":"b","x":-2.25,"y":68},{"ps":[7],"k":"p","cl":"b","x":-1.9,"y":101},{"ps":[7],"k":"p","cl":"b","x":-1.35,"y":81},{"ps":[7],"k":"p","cl":"b","x":-0.9,"y":65},{"ps":[7],"k":"p","cl":"b","x":-0.6,"y":97},{"ps":[7],"k":"p","cl":"b","x":0.2,"y":71},{"ps":[7],"k":"p","cl":"b","x":0.75,"y":81},{"ps":[7],"k":"p","cl":"b","x":1.5,"y":84},{"ps":[7],"k":"p","cl":"b","x":2.25,"y":97},{"ps":[7],"k":"p","cl":"b","x":3.15,"y":119},{"ps":[7],"k":"p","cl":"b","x":3.6,"y":88},{"ps":[7],"k":"p","cl":"b","x":3,"y":48},{"ps":[7],"k":"p","cl":"b","x":3.75,"y":28},{"ps":[7],"k":"p","cl":"b","x":4.35,"y":57},{"ps":[7],"k":"p","cl":"b","x":11.8,"y":-12},{"ps":[7],"k":"p","cl":"b","x":13.1,"y":-19},{"ps":[7],"k":"p","cl":"b","x":3.4,"y":-268},{"ps":[7],"k":"p","cl":"b","x":3,"y":-325},{"ps":[7],"k":"p","cl":"b","x":-0.4,"y":164},{"ps":[7],"k":"p","cl":"b","x":1.5,"y":101},
{"ps":[7],"k":"p","cl":"r","x":24.2,"y":353},{"ps":[7],"k":"p","cl":"r","x":20.5,"y":311},{"ps":[7],"k":"p","cl":"r","x":17,"y":231},{"ps":[7],"k":"p","cl":"r","x":11.5,"y":152},{"ps":[7],"k":"p","cl":"r","x":14.25,"y":157},{"ps":[7],"k":"p","cl":"r","x":15.4,"y":105},{"ps":[7],"k":"p","cl":"r","x":15.5,"y":89},{"ps":[7],"k":"p","cl":"r","x":16.1,"y":73},{"ps":[7],"k":"p","cl":"r","x":19,"y":73},{"ps":[7],"k":"p","cl":"r","x":18.75,"y":51},{"ps":[7],"k":"p","cl":"r","x":19.35,"y":51},{"ps":[7],"k":"p","cl":"r","x":17.6,"y":28},{"ps":[7],"k":"p","cl":"r","x":18.4,"y":5},{"ps":[7],"k":"p","cl":"r","x":15.5,"y":-8},{"ps":[7],"k":"p","cl":"r","x":14.25,"y":-12},{"ps":[7],"k":"p","cl":"r","x":10.35,"y":-21},{"ps":[7],"k":"p","cl":"r","x":9.75,"y":-25},{"ps":[7],"k":"p","cl":"r","x":7.9,"y":-56},{"ps":[7],"k":"p","cl":"r","x":7.1,"y":-65},{"ps":[7],"k":"p","cl":"r","x":4.9,"y":11},{"ps":[7],"k":"p","cl":"r","x":5.8,"y":119},{"ps":[7],"k":"p","cl":"r","x":3,"y":145},{"ps":[7],"k":"p","cl":"r","x":-0.9,"y":155},{"ps":[7],"k":"p","cl":"r","x":0.2,"y":111},{"ps":[7],"k":"p","cl":"r","x":1.2,"y":115},{"ps":[7],"k":"p","cl":"r","x":-0.4,"y":81},{"ps":[7],"k":"p","cl":"r","x":-1.65,"y":21},{"ps":[7],"k":"p","cl":"r","x":-13.1,"y":41},{"ps":[7],"k":"p","cl":"r","x":-4.65,"y":95},{"ps":[7],"k":"p","cl":"r","x":-0.15,"y":-59},{"ps":[7],"k":"p","cl":"r","x":5.1,"y":-208},{"ps":[7],"k":"p","cl":"r","x":9.4,"y":153},{"ps":[7],"k":"p","cl":"r","x":6.9,"y":60},
{"ps":[7],"k":"p","cl":"g","x":19.5,"y":71},{"ps":[7],"k":"p","cl":"g","x":21.2,"y":-64},{"ps":[7],"k":"p","cl":"g","x":8.1,"y":-53},{"ps":[7],"k":"p","cl":"g","x":3.15,"y":-285},{"ps":[7],"k":"p","cl":"k","x":10.1,"y":149},{"ps":[7],"k":"p","cl":"k","x":9.6,"y":57},{"ps":[7],"k":"p","cl":"k","x":6,"y":-212},
{"ps":[8],"k":"p","cl":"b","x":-7.9,"y":192},{"ps":[8],"k":"p","cl":"b","x":-8.4,"y":115},{"ps":[8],"k":"p","cl":"b","x":-7.4,"y":77},{"ps":[8],"k":"p","cl":"b","x":-4.4,"y":79},{"ps":[8],"k":"p","cl":"b","x":-4.1,"y":41},{"ps":[8],"k":"p","cl":"b","x":-3.3,"y":44},{"ps":[8],"k":"p","cl":"b","x":-2.6,"y":95},{"ps":[8],"k":"p","cl":"b","x":-2.2,"y":81},{"ps":[8],"k":"p","cl":"b","x":-1.65,"y":55},{"ps":[8],"k":"p","cl":"b","x":-1.1,"y":39},{"ps":[8],"k":"p","cl":"b","x":-0.5,"y":17},{"ps":[8],"k":"p","cl":"b","x":-0.15,"y":225},{"ps":[8],"k":"p","cl":"b","x":0.6,"y":28},{"ps":[8],"k":"p","cl":"b","x":0.97,"y":15},{"ps":[8],"k":"p","cl":"b","x":1.7,"y":15},{"ps":[8],"k":"p","cl":"b","x":3.1,"y":48},{"ps":[8],"k":"p","cl":"b","x":4,"y":41},{"ps":[8],"k":"p","cl":"b","x":5.5,"y":65},{"ps":[8],"k":"p","cl":"b","x":6.8,"y":-28},{"ps":[8],"k":"p","cl":"b","x":-0.5,"y":-28},{"ps":[8],"k":"p","cl":"b","x":13,"y":71},{"ps":[8],"k":"p","cl":"b","x":11.5,"y":-123},{"ps":[8],"k":"p","cl":"b","x":3.2,"y":-325},{"ps":[8],"k":"p","cl":"b","x":-2.4,"y":19},{"ps":[8],"k":"p","cl":"b","x":-1.1,"y":61},
{"ps":[8],"k":"p","cl":"r","x":21.1,"y":268},{"ps":[8],"k":"p","cl":"r","x":23.6,"y":257},{"ps":[8],"k":"p","cl":"r","x":10.2,"y":183},{"ps":[8],"k":"p","cl":"r","x":16,"y":121},{"ps":[8],"k":"p","cl":"r","x":16.7,"y":131},{"ps":[8],"k":"p","cl":"r","x":13.35,"y":81},{"ps":[8],"k":"p","cl":"r","x":18.75,"y":72},{"ps":[8],"k":"p","cl":"r","x":26.6,"y":72},{"ps":[8],"k":"p","cl":"r","x":12,"y":31},{"ps":[8],"k":"p","cl":"r","x":13.1,"y":25},{"ps":[8],"k":"p","cl":"r","x":14.3,"y":25},{"ps":[8],"k":"p","cl":"r","x":15.7,"y":45},{"ps":[8],"k":"p","cl":"r","x":15.7,"y":12},{"ps":[8],"k":"p","cl":"r","x":1.6,"y":151},{"ps":[8],"k":"p","cl":"r","x":1.35,"y":181},{"ps":[8],"k":"p","cl":"r","x":0.6,"y":235},{"ps":[8],"k":"p","cl":"r","x":3.2,"y":151},{"ps":[8],"k":"p","cl":"r","x":4,"y":124},{"ps":[8],"k":"p","cl":"r","x":5.1,"y":101},{"ps":[8],"k":"p","cl":"r","x":6.2,"y":55},{"ps":[8],"k":"p","cl":"r","x":4.9,"y":15},{"ps":[8],"k":"p","cl":"r","x":5.1,"y":25},{"ps":[8],"k":"p","cl":"r","x":1.7,"y":8},{"ps":[8],"k":"p","cl":"r","x":-1.1,"y":84},{"ps":[8],"k":"p","cl":"r","x":-3.15,"y":41},{"ps":[8],"k":"p","cl":"r","x":5.2,"y":-59},{"ps":[8],"k":"p","cl":"r","x":5.85,"y":-81},{"ps":[8],"k":"p","cl":"r","x":6.1,"y":-95},{"ps":[8],"k":"p","cl":"r","x":9.8,"y":-68},{"ps":[8],"k":"p","cl":"r","x":11.3,"y":-59},{"ps":[8],"k":"p","cl":"r","x":13.2,"y":-39},{"ps":[8],"k":"p","cl":"r","x":15,"y":-69},{"ps":[8],"k":"p","cl":"r","x":17.7,"y":-72},{"ps":[8],"k":"p","cl":"r","x":7.1,"y":-175},{"ps":[8],"k":"p","cl":"r","x":0.07,"y":-183},{"ps":[8],"k":"p","cl":"r","x":10.7,"y":-329},{"ps":[8],"k":"p","cl":"r","x":2.3,"y":31},
{"ps":[8],"k":"p","cl":"g","x":4.05,"y":-316},{"ps":[8],"k":"p","cl":"g","x":8.6,"y":-321},{"ps":[8],"k":"p","cl":"g","x":14.8,"y":-285},{"ps":[8],"k":"p","cl":"k","x":-4.1,"y":111},{"ps":[8],"k":"p","cl":"k","x":2.1,"y":-57},{"ps":[8],"k":"p","cl":"k","x":8.6,"y":-127},
{"ps":[9],"k":"p","cl":"b","x":-2.25,"y":255},{"ps":[9],"k":"p","cl":"b","x":-2.2,"y":236},{"ps":[9],"k":"p","cl":"b","x":0.75,"y":232},{"ps":[9],"k":"p","cl":"b","x":2.85,"y":235},{"ps":[9],"k":"p","cl":"b","x":4.3,"y":192},{"ps":[9],"k":"p","cl":"b","x":6.1,"y":229},{"ps":[9],"k":"p","cl":"b","x":6.6,"y":189},{"ps":[9],"k":"p","cl":"b","x":7.9,"y":255},{"ps":[9],"k":"p","cl":"b","x":8.6,"y":255},{"ps":[9],"k":"p","cl":"b","x":4.3,"y":145},{"ps":[9],"k":"p","cl":"b","x":4.2,"y":165},{"ps":[9],"k":"p","cl":"b","x":0.8,"y":201},{"ps":[9],"k":"p","cl":"b","x":-2.4,"y":116},{"ps":[9],"k":"p","cl":"b","x":-2,"y":105},{"ps":[9],"k":"p","cl":"b","x":-1.65,"y":85},{"ps":[9],"k":"p","cl":"b","x":-1.4,"y":119},{"ps":[9],"k":"p","cl":"b","x":-0.9,"y":135},{"ps":[9],"k":"p","cl":"b","x":-0.4,"y":141},{"ps":[9],"k":"p","cl":"b","x":0.2,"y":119},{"ps":[9],"k":"p","cl":"b","x":1.1,"y":132},{"ps":[9],"k":"p","cl":"b","x":1,"y":112},{"ps":[9],"k":"p","cl":"b","x":-0.5,"y":112},{"ps":[9],"k":"p","cl":"b","x":-1.3,"y":92},{"ps":[9],"k":"p","cl":"b","x":-4,"y":112},{"ps":[9],"k":"p","cl":"b","x":-3.7,"y":92},{"ps":[9],"k":"p","cl":"b","x":-5.4,"y":129},{"ps":[9],"k":"p","cl":"b","x":-6.4,"y":135},{"ps":[9],"k":"p","cl":"b","x":-5.8,"y":99},{"ps":[9],"k":"p","cl":"b","x":-5.9,"y":68},{"ps":[9],"k":"p","cl":"b","x":-5,"y":68},{"ps":[9],"k":"p","cl":"b","x":-3.9,"y":48},{"ps":[9],"k":"p","cl":"b","x":-2.8,"y":32},{"ps":[9],"k":"p","cl":"b","x":5.1,"y":39},{"ps":[9],"k":"p","cl":"b","x":6.1,"y":48},{"ps":[9],"k":"p","cl":"b","x":10.3,"y":-24},{"ps":[9],"k":"p","cl":"b","x":4.3,"y":-28},{"ps":[9],"k":"p","cl":"b","x":3.4,"y":-228},{"ps":[9],"k":"p","cl":"b","x":3.7,"y":9},
{"ps":[9],"k":"p","cl":"r","x":-10.9,"y":124},{"ps":[9],"k":"p","cl":"r","x":-4.9,"y":41},{"ps":[9],"k":"p","cl":"r","x":-2.5,"y":139},{"ps":[9],"k":"p","cl":"r","x":-0.4,"y":192},{"ps":[9],"k":"p","cl":"r","x":0.4,"y":148},{"ps":[9],"k":"p","cl":"r","x":1.7,"y":148},{"ps":[9],"k":"p","cl":"r","x":2.8,"y":179},{"ps":[9],"k":"p","cl":"r","x":4.1,"y":228},{"ps":[9],"k":"p","cl":"r","x":5.1,"y":199},{"ps":[9],"k":"p","cl":"r","x":6.6,"y":225},{"ps":[9],"k":"p","cl":"r","x":8.1,"y":215},{"ps":[9],"k":"p","cl":"r","x":8.1,"y":159},{"ps":[9],"k":"p","cl":"r","x":9.7,"y":325},{"ps":[9],"k":"p","cl":"r","x":9.8,"y":315},{"ps":[9],"k":"p","cl":"r","x":10.3,"y":209},{"ps":[9],"k":"p","cl":"r","x":11.8,"y":201},{"ps":[9],"k":"p","cl":"r","x":11.5,"y":156},{"ps":[9],"k":"p","cl":"r","x":9.6,"y":119},{"ps":[9],"k":"p","cl":"r","x":11.1,"y":125},{"ps":[9],"k":"p","cl":"r","x":11.2,"y":118},{"ps":[9],"k":"p","cl":"r","x":10,"y":68},{"ps":[9],"k":"p","cl":"r","x":8.1,"y":52},{"ps":[9],"k":"p","cl":"r","x":9.2,"y":59},{"ps":[9],"k":"p","cl":"r","x":11.8,"y":39},{"ps":[9],"k":"p","cl":"r","x":13.3,"y":79},{"ps":[9],"k":"p","cl":"r","x":14.3,"y":61},{"ps":[9],"k":"p","cl":"r","x":14.8,"y":19},{"ps":[9],"k":"p","cl":"r","x":15.6,"y":12},{"ps":[9],"k":"p","cl":"r","x":16.7,"y":-4},{"ps":[9],"k":"p","cl":"r","x":16.7,"y":-11},{"ps":[9],"k":"p","cl":"r","x":19,"y":196},{"ps":[9],"k":"p","cl":"r","x":13.5,"y":-11},{"ps":[9],"k":"p","cl":"r","x":6.1,"y":5},{"ps":[9],"k":"p","cl":"r","x":8,"y":-28},{"ps":[9],"k":"p","cl":"r","x":3.8,"y":-35},{"ps":[9],"k":"p","cl":"r","x":4,"y":-39},{"ps":[9],"k":"p","cl":"r","x":14.5,"y":-105},{"ps":[9],"k":"p","cl":"r","x":3.1,"y":12},{"ps":[9],"k":"p","cl":"r","x":5.1,"y":79},{"ps":[9],"k":"p","cl":"r","x":4.3,"y":108},{"ps":[9],"k":"p","cl":"r","x":3.2,"y":52},{"ps":[9],"k":"p","cl":"r","x":2.3,"y":148},
{"ps":[9],"k":"p","cl":"g","x":10.1,"y":28},{"ps":[9],"k":"p","cl":"g","x":9.1,"y":-124},{"ps":[9],"k":"p","cl":"g","x":3.2,"y":-228},{"ps":[9],"k":"p","cl":"k","x":-7.3,"y":125},{"ps":[9],"k":"p","cl":"k","x":3,"y":95},{"ps":[9],"k":"p","cl":"k","x":7.1,"y":32},{"ps":[9],"k":"p","cl":"k","x":2.85,"y":-225},
{"ps":[10],"k":"p","cl":"b","x":1,"y":171},{"ps":[10],"k":"p","cl":"b","x":-1.9,"y":111},{"ps":[10],"k":"p","cl":"b","x":-3.5,"y":92},{"ps":[10],"k":"p","cl":"b","x":-3,"y":81},{"ps":[10],"k":"p","cl":"b","x":-2.6,"y":77},{"ps":[10],"k":"p","cl":"b","x":-1.35,"y":77},{"ps":[10],"k":"p","cl":"b","x":-0.75,"y":92},{"ps":[10],"k":"p","cl":"b","x":0.6,"y":84},{"ps":[10],"k":"p","cl":"b","x":0.75,"y":72},{"ps":[10],"k":"p","cl":"b","x":-4.9,"y":57},{"ps":[10],"k":"p","cl":"b","x":-6.5,"y":44},{"ps":[10],"k":"p","cl":"b","x":-7.5,"y":24},{"ps":[10],"k":"p","cl":"b","x":-8.1,"y":15},{"ps":[10],"k":"p","cl":"b","x":-6,"y":41},{"ps":[10],"k":"p","cl":"b","x":-3.9,"y":41},{"ps":[10],"k":"p","cl":"b","x":-2.8,"y":44},{"ps":[10],"k":"p","cl":"b","x":-1.35,"y":31},{"ps":[10],"k":"p","cl":"b","x":-0.9,"y":12},{"ps":[10],"k":"p","cl":"b","x":2.4,"y":8},{"ps":[10],"k":"p","cl":"b","x":3.15,"y":5},{"ps":[10],"k":"p","cl":"b","x":4.7,"y":-39},{"ps":[10],"k":"p","cl":"b","x":6.9,"y":-119},{"ps":[10],"k":"p","cl":"b","x":2.8,"y":-181},{"ps":[10],"k":"p","cl":"b","x":-1.9,"y":8},{"ps":[10],"k":"p","cl":"b","x":-3.75,"y":8},
{"ps":[10],"k":"p","cl":"r","x":3.75,"y":171},{"ps":[10],"k":"p","cl":"r","x":3.15,"y":145},{"ps":[10],"k":"p","cl":"r","x":4,"y":131},{"ps":[10],"k":"p","cl":"r","x":3.4,"y":111},{"ps":[10],"k":"p","cl":"r","x":3.75,"y":93},{"ps":[10],"k":"p","cl":"r","x":4.5,"y":113},{"ps":[10],"k":"p","cl":"r","x":4.9,"y":57},{"ps":[10],"k":"p","cl":"r","x":6.4,"y":92},{"ps":[10],"k":"p","cl":"r","x":7.5,"y":113},{"ps":[10],"k":"p","cl":"r","x":9.75,"y":141},{"ps":[10],"k":"p","cl":"r","x":9.9,"y":124},{"ps":[10],"k":"p","cl":"r","x":12.5,"y":88},{"ps":[10],"k":"p","cl":"r","x":13.3,"y":55},{"ps":[10],"k":"p","cl":"r","x":14.4,"y":55},{"ps":[10],"k":"p","cl":"r","x":15.4,"y":21},{"ps":[10],"k":"p","cl":"r","x":15.75,"y":31},{"ps":[10],"k":"p","cl":"r","x":14.1,"y":15},{"ps":[10],"k":"p","cl":"r","x":12.3,"y":27},{"ps":[10],"k":"p","cl":"r","x":11.6,"y":-9},{"ps":[10],"k":"p","cl":"r","x":8.85,"y":-9},{"ps":[10],"k":"p","cl":"r","x":8.1,"y":1},{"ps":[10],"k":"p","cl":"r","x":7.35,"y":13},{"ps":[10],"k":"p","cl":"r","x":6.2,"y":13},{"ps":[10],"k":"p","cl":"r","x":5.6,"y":15},{"ps":[10],"k":"p","cl":"r","x":6.75,"y":-5},{"ps":[10],"k":"p","cl":"r","x":6.6,"y":-28},{"ps":[10],"k":"p","cl":"r","x":7.9,"y":-35},{"ps":[10],"k":"p","cl":"r","x":8.85,"y":-52},{"ps":[10],"k":"p","cl":"r","x":9.2,"y":-132},{"ps":[10],"k":"p","cl":"r","x":1.35,"y":-105},{"ps":[10],"k":"p","cl":"r","x":-0.4,"y":-125},{"ps":[10],"k":"p","cl":"r","x":-1.1,"y":92},{"ps":[10],"k":"p","cl":"r","x":-1.9,"y":87},{"ps":[10],"k":"p","cl":"r","x":-5.8,"y":81},{"ps":[10],"k":"p","cl":"r","x":-4.65,"y":44},{"ps":[10],"k":"p","cl":"r","x":-5.4,"y":12},{"ps":[10],"k":"p","cl":"r","x":2.25,"y":47},{"ps":[10],"k":"p","cl":"r","x":14.25,"y":-28},{"ps":[10],"k":"p","cl":"r","x":6,"y":-209},
{"ps":[10],"k":"p","cl":"g","x":1.5,"y":8},{"ps":[10],"k":"p","cl":"g","x":3.15,"y":-152},{"ps":[10],"k":"p","cl":"g","x":6.15,"y":-216},{"ps":[10],"k":"p","cl":"g","x":6.4,"y":-225},{"ps":[10],"k":"p","cl":"k","x":-8.6,"y":68},{"ps":[10],"k":"p","cl":"k","x":3.9,"y":48},{"ps":[10],"k":"p","cl":"k","x":5.25,"y":-63},{"ps":[10],"k":"p","cl":"k","x":6.9,"y":-83},
{"ps":[11],"k":"p","cl":"b","x":0.75,"y":207},{"ps":[11],"k":"p","cl":"b","x":0.2,"y":164},{"ps":[11],"k":"p","cl":"b","x":0.6,"y":147},{"ps":[11],"k":"p","cl":"b","x":-1.1,"y":124},{"ps":[11],"k":"p","cl":"b","x":-0.6,"y":131},{"ps":[11],"k":"p","cl":"b","x":-3.6,"y":91},{"ps":[11],"k":"p","cl":"b","x":-2.4,"y":88},{"ps":[11],"k":"p","cl":"b","x":-1.35,"y":71},{"ps":[11],"k":"p","cl":"b","x":-1.8,"y":57},{"ps":[11],"k":"p","cl":"b","x":-1.8,"y":64},{"ps":[11],"k":"p","cl":"b","x":-3.4,"y":44},{"ps":[11],"k":"p","cl":"b","x":-5.1,"y":33},{"ps":[11],"k":"p","cl":"b","x":-0.75,"y":28},{"ps":[11],"k":"p","cl":"b","x":0.75,"y":84},{"ps":[11],"k":"p","cl":"b","x":1.5,"y":95},{"ps":[11],"k":"p","cl":"b","x":2.1,"y":101},{"ps":[11],"k":"p","cl":"b","x":2.25,"y":124},{"ps":[11],"k":"p","cl":"b","x":2.85,"y":131},{"ps":[11],"k":"p","cl":"b","x":3,"y":111},{"ps":[11],"k":"p","cl":"b","x":0.4,"y":44},{"ps":[11],"k":"p","cl":"b","x":6.5,"y":51},{"ps":[11],"k":"p","cl":"b","x":8.85,"y":160},{"ps":[11],"k":"p","cl":"b","x":10.9,"y":188},{"ps":[11],"k":"p","cl":"b","x":12,"y":143},{"ps":[11],"k":"p","cl":"b","x":13.2,"y":-65},{"ps":[11],"k":"p","cl":"b","x":13.7,"y":-69},{"ps":[11],"k":"p","cl":"b","x":8.85,"y":-136},{"ps":[11],"k":"p","cl":"b","x":2.8,"y":-152},{"ps":[11],"k":"p","cl":"b","x":9.9,"y":48},
{"ps":[11],"k":"p","cl":"r","x":-0.9,"y":161},{"ps":[11],"k":"p","cl":"r","x":1.1,"y":153},{"ps":[11],"k":"p","cl":"r","x":1.65,"y":148},{"ps":[11],"k":"p","cl":"r","x":2.25,"y":164},{"ps":[11],"k":"p","cl":"r","x":3.6,"y":180},{"ps":[11],"k":"p","cl":"r","x":5,"y":157},{"ps":[11],"k":"p","cl":"r","x":5.4,"y":184},{"ps":[11],"k":"p","cl":"r","x":3.75,"y":127},{"ps":[11],"k":"p","cl":"r","x":4.5,"y":84},{"ps":[11],"k":"p","cl":"r","x":4.9,"y":117},{"ps":[11],"k":"p","cl":"r","x":6,"y":84},{"ps":[11],"k":"p","cl":"r","x":8.6,"y":201},{"ps":[11],"k":"p","cl":"r","x":9.9,"y":157},{"ps":[11],"k":"p","cl":"r","x":10.1,"y":124},{"ps":[11],"k":"p","cl":"r","x":13.5,"y":87},{"ps":[11],"k":"p","cl":"r","x":15.15,"y":95},{"ps":[11],"k":"p","cl":"r","x":17.8,"y":88},{"ps":[11],"k":"p","cl":"r","x":16.35,"y":44},{"ps":[11],"k":"p","cl":"r","x":13.1,"y":33},{"ps":[11],"k":"p","cl":"r","x":12,"y":37},{"ps":[11],"k":"p","cl":"r","x":10.9,"y":47},{"ps":[11],"k":"p","cl":"r","x":10.5,"y":8},{"ps":[11],"k":"p","cl":"r","x":12.5,"y":8},{"ps":[11],"k":"p","cl":"r","x":14.1,"y":4},{"ps":[11],"k":"p","cl":"r","x":19.5,"y":11},{"ps":[11],"k":"p","cl":"r","x":15.2,"y":-13},{"ps":[11],"k":"p","cl":"r","x":12.2,"y":-20},{"ps":[11],"k":"p","cl":"r","x":9.9,"y":-16},{"ps":[11],"k":"p","cl":"r","x":9,"y":-9},{"ps":[11],"k":"p","cl":"r","x":8.1,"y":-29},{"ps":[11],"k":"p","cl":"r","x":4.3,"y":-16},{"ps":[11],"k":"p","cl":"r","x":7.65,"y":57},{"ps":[11],"k":"p","cl":"r","x":1.65,"y":57},{"ps":[11],"k":"p","cl":"r","x":-0.75,"y":117},{"ps":[11],"k":"p","cl":"r","x":3.4,"y":-105},{"ps":[11],"k":"p","cl":"r","x":9.9,"y":-219},{"ps":[11],"k":"p","cl":"r","x":10.7,"y":-229},
{"ps":[11],"k":"p","cl":"g","x":6,"y":-13},{"ps":[11],"k":"p","cl":"g","x":0.75,"y":-3},{"ps":[11],"k":"p","cl":"g","x":5.4,"y":-116},{"ps":[11],"k":"p","cl":"g","x":9.9,"y":-252},{"ps":[11],"k":"p","cl":"g","x":10.9,"y":-272},{"ps":[11],"k":"p","cl":"k","x":7.35,"y":141},{"ps":[11],"k":"p","cl":"k","x":7.5,"y":-39},{"ps":[11],"k":"p","cl":"k","x":10.3,"y":-52},
{"ps":[12],"k":"p","cl":"b","x":19.3,"y":176},{"ps":[12],"k":"p","cl":"b","x":-14.2,"y":112},{"ps":[12],"k":"p","cl":"b","x":-13.5,"y":76},{"ps":[12],"k":"p","cl":"b","x":-10.8,"y":94},{"ps":[12],"k":"p","cl":"b","x":-9.5,"y":96},{"ps":[12],"k":"p","cl":"b","x":-8.2,"y":78},{"ps":[12],"k":"p","cl":"b","x":-6.9,"y":172},{"ps":[12],"k":"p","cl":"b","x":-7.3,"y":165},{"ps":[12],"k":"p","cl":"b","x":-6.3,"y":125},{"ps":[12],"k":"p","cl":"b","x":-6.1,"y":118},{"ps":[12],"k":"p","cl":"b","x":-6.5,"y":1},{"ps":[12],"k":"p","cl":"b","x":-6.2,"y":32},{"ps":[12],"k":"p","cl":"b","x":-5.2,"y":72},{"ps":[12],"k":"p","cl":"b","x":-4.7,"y":92},{"ps":[12],"k":"p","cl":"b","x":-3.9,"y":74},{"ps":[12],"k":"p","cl":"b","x":-2.8,"y":97},{"ps":[12],"k":"p","cl":"b","x":-2.2,"y":201},{"ps":[12],"k":"p","cl":"b","x":-0.5,"y":178},{"ps":[12],"k":"p","cl":"b","x":-0.6,"y":41},{"ps":[12],"k":"p","cl":"b","x":-0.1,"y":94},{"ps":[12],"k":"p","cl":"b","x":0.45,"y":74},{"ps":[12],"k":"p","cl":"b","x":1.2,"y":55},{"ps":[12],"k":"p","cl":"b","x":1.6,"y":39},{"ps":[12],"k":"p","cl":"b","x":2.2,"y":48},{"ps":[12],"k":"p","cl":"b","x":9.7,"y":23},{"ps":[12],"k":"p","cl":"b","x":0.1,"y":-17},{"ps":[12],"k":"p","cl":"b","x":0.45,"y":-21},{"ps":[12],"k":"p","cl":"b","x":-3.7,"y":-36},{"ps":[12],"k":"p","cl":"b","x":-0.1,"y":-201},{"ps":[12],"k":"p","cl":"b","x":-4.1,"y":89},{"ps":[12],"k":"p","cl":"b","x":-3.3,"y":88},
{"ps":[12],"k":"p","cl":"r","x":-5.9,"y":185},{"ps":[12],"k":"p","cl":"r","x":-6.9,"y":156},{"ps":[12],"k":"p","cl":"r","x":-4.2,"y":156},{"ps":[12],"k":"p","cl":"r","x":-4.3,"y":16},{"ps":[12],"k":"p","cl":"r","x":-2.9,"y":98},{"ps":[12],"k":"p","cl":"r","x":-2.6,"y":39},{"ps":[12],"k":"p","cl":"r","x":-1.05,"y":168},{"ps":[12],"k":"p","cl":"r","x":-0.1,"y":174},{"ps":[12],"k":"p","cl":"r","x":0.6,"y":76},{"ps":[12],"k":"p","cl":"r","x":0.8,"y":43},{"ps":[12],"k":"p","cl":"r","x":3.5,"y":23},{"ps":[12],"k":"p","cl":"r","x":3.7,"y":25},{"ps":[12],"k":"p","cl":"r","x":2.6,"y":136},{"ps":[12],"k":"p","cl":"r","x":-0.15,"y":-32},{"ps":[12],"k":"p","cl":"r","x":-0.45,"y":-51},{"ps":[12],"k":"p","cl":"r","x":1.6,"y":-44},{"ps":[12],"k":"p","cl":"r","x":-0.8,"y":-203},{"ps":[12],"k":"p","cl":"r","x":0.1,"y":-214},{"ps":[12],"k":"p","cl":"r","x":-0.45,"y":-263},{"ps":[12],"k":"p","cl":"r","x":6.8,"y":-72},{"ps":[12],"k":"p","cl":"r","x":7.4,"y":-144},{"ps":[12],"k":"p","cl":"r","x":5.3,"y":-152},{"ps":[12],"k":"p","cl":"r","x":6.5,"y":-168},{"ps":[12],"k":"p","cl":"r","x":6.8,"y":-307},{"ps":[12],"k":"p","cl":"r","x":9.8,"y":-118},{"ps":[12],"k":"p","cl":"r","x":11.7,"y":-110},{"ps":[12],"k":"p","cl":"r","x":12.6,"y":-28},{"ps":[12],"k":"p","cl":"r","x":13.2,"y":-41},{"ps":[12],"k":"p","cl":"r","x":14.8,"y":55},{"ps":[12],"k":"p","cl":"r","x":15,"y":39},{"ps":[12],"k":"p","cl":"r","x":16.2,"y":68},{"ps":[12],"k":"p","cl":"r","x":17.2,"y":78},{"ps":[12],"k":"p","cl":"r","x":17.5,"y":39},{"ps":[12],"k":"p","cl":"r","x":16.8,"y":8},{"ps":[12],"k":"p","cl":"r","x":18.7,"y":8},{"ps":[12],"k":"p","cl":"r","x":20.2,"y":-12},{"ps":[12],"k":"p","cl":"r","x":20.8,"y":-17},{"ps":[12],"k":"p","cl":"r","x":18.6,"y":-92},{"ps":[12],"k":"p","cl":"r","x":26.8,"y":59},
{"ps":[12],"k":"p","cl":"g","x":4,"y":-281},{"ps":[12],"k":"p","cl":"g","x":7.2,"y":-172},{"ps":[12],"k":"p","cl":"g","x":2.3,"y":-218},{"ps":[12],"k":"p","cl":"k","x":-9.5,"y":207},{"ps":[12],"k":"p","cl":"k","x":-0.5,"y":81},{"ps":[12],"k":"p","cl":"k","x":1.2,"y":-227},{"ps":[12],"k":"p","cl":"k","x":2.9,"y":-191}
]},
"transform":[
{"flatten":["ps"],"as":["p"]},
{"calculate":"ceil(datum.p/4)","as":"row"},
{"calculate":"(datum.p-1)%4","as":"col"}
],
"facet":{
"row":{"field":"row","type":"ordinal","header":{"title":"Atmosphere Leg: r(SHF,LCL)σ(LCL) [m]","labels":false,"titleOrient":"left","titlePadding":26}},
"column":{"field":"col","type":"ordinal","header":{"title":null,"labels":false}}
},
"spacing":{"row":31.5,"column":47},
"bounds":"flush",
"resolve":{"scale":{"x":"independent","y":"independent"}},
"spec":{
"width":242,"height":251,
"layer":[
{"transform":[{"filter":"datum.k=='a'"}],"mark":{"type":"rect","color":"#b4c6e4"},"encoding":{
"x":{"datum":-20,"type":"quantitative","scale":{"domain":[-20,35],"nice":false,"zero":false},"axis":{"title":null,"values":[-20,-15,-10,-5,0,5,10,15,20,25,30,35],"tickCount":40,"labelExpr":"''+datum.value","labelOverlap":false,"labelFlush":false,"labelBound":false,"labelFontSize":14,"labelFont":"DejaVu Sans"}},
"x2":{"datum":0},
"y":{"datum":0,"type":"quantitative","scale":{"domain":[-350,650],"nice":false,"zero":false},"axis":{"title":null,"values":[-300,-200,-100,0,100,200,300,400,500,600],"tickCount":40,"labelExpr":"''+datum.value","labelOverlap":false,"labelFlush":false,"labelBound":false,"labelFontSize":14,"labelFont":"DejaVu Sans"}},
"y2":{"datum":650}}},
{"transform":[{"filter":"datum.k=='a'"}],"mark":{"type":"rect","color":"#eababa"},"encoding":{"x":{"datum":0,"type":"quantitative"},"x2":{"datum":35},"y":{"datum":0,"type":"quantitative"},"y2":{"datum":650}}},
{"transform":[{"filter":"datum.k=='a'"}],"mark":{"type":"rect","color":"#d7e4b8"},"encoding":{"x":{"datum":0,"type":"quantitative"},"x2":{"datum":35},"y":{"datum":-350,"type":"quantitative"},"y2":{"datum":0}}},
{"transform":[{"filter":"datum.k=='a'"}],"mark":{"type":"rect","color":"#e5e5e5"},"encoding":{"x":{"datum":-20,"type":"quantitative"},"x2":{"datum":0},"y":{"datum":-350,"type":"quantitative"},"y2":{"datum":0}}},
{"transform":[{"filter":"datum.k=='a'"}],"mark":{"type":"rule","color":"#6e6e6e","strokeWidth":1},"encoding":{"x":{"datum":0,"type":"quantitative"}}},
{"transform":[{"filter":"datum.k=='a'"}],"mark":{"type":"rule","color":"#6e6e6e","strokeWidth":1},"encoding":{"y":{"datum":0,"type":"quantitative"}}},
{"transform":[{"filter":"datum.k=='w'"}],"mark":{"type":"circle","color":"white","size":18,"opacity":1},"encoding":{
"x":{"field":"x","type":"quantitative","axis":{"title":null,"values":[-20,-15,-10,-5,0,5,10,15,20,25,30,35],"tickCount":40,"labelExpr":"''+datum.value","labelOverlap":false,"labelFlush":false,"labelBound":false,"labelFontSize":14,"labelFont":"DejaVu Sans"}},
"y":{"field":"y","type":"quantitative","axis":{"title":null,"values":[-300,-200,-100,0,100,200,300,400,500,600],"tickCount":40,"labelExpr":"''+datum.value","labelOverlap":false,"labelFlush":false,"labelBound":false,"labelFontSize":14,"labelFont":"DejaVu Sans"}}}},
{"transform":[{"filter":"datum.k=='c'"}],"mark":{"type":"line","strokeDash":[3,2],"strokeWidth":0.8,"opacity":0.6},"encoding":{"x":{"field":"x","type":"quantitative"},"y":{"field":"y","type":"quantitative"},"detail":{"field":"cl"},"color":{"field":"cl","type":"nominal","scale":{"domain":["b","r","g","k"],"range":["#3562b5","#ee3b3b","#5e8c1f","#a3a3a3"]},"legend":null}}},
{"transform":[{"filter":"datum.k=='c' && datum.m=='o'"}],"mark":{"type":"point","filled":false,"color":"white","size":64,"strokeWidth":0.8},"encoding":{"x":{"field":"x","type":"quantitative"},"y":{"field":"y","type":"quantitative"}}},
{"transform":[{"filter":"datum.k=='c' && datum.m=='m'"}],"mark":{"type":"point","filled":false,"size":64,"strokeWidth":0.8,"opacity":0.8},"encoding":{"x":{"field":"x","type":"quantitative"},"y":{"field":"y","type":"quantitative"},"color":{"field":"cl","type":"nominal","legend":null}}},
{"transform":[{"filter":"datum.k=='p'"}],"mark":{"type":"circle","size":18,"opacity":1},"encoding":{"x":{"field":"x","type":"quantitative"},"y":{"field":"y","type":"quantitative"},"color":{"field":"cl","type":"nominal","legend":null}}},
{"transform":[{"filter":"datum.k=='a'"},{"calculate":"-19.1 + ((0.636*length(replace(datum.n,regexp('[^0-9]','g'),'')) + 0.9*length(replace(datum.n,regexp('[^Mm]','g'),'')) + 0.69*length(replace(datum.n,regexp('[^A-HJ-LN-Z]','g'),'')) + 0.61*length(replace(datum.n,regexp('[^a-hjkn-qsu-z]','g'),'')) + 0.28*length(replace(datum.n,regexp('[^ilI]','g'),'')) + 0.4*length(replace(datum.n,regexp('[^rt]','g'),'')) + 0.318*length(replace(datum.n,regexp('[^. ]','g'),'')) + 0.5*length(replace(datum.n,regexp('[^°]','g'),'')) + 0.36*length(replace(datum.n,regexp('[^-]','g'),'')) + 0.84*length(replace(datum.n,regexp('[^+]','g'),'')))*14 + 7)/4.4","as":"bx"}],"mark":{"type":"rect","color":"white","opacity":0.72},"encoding":{"x":{"field":"bx","type":"quantitative"},"x2":{"datum":-19.1},"y":{"datum":562,"type":"quantitative"},"y2":{"datum":643}}},
{"transform":[{"filter":"datum.k=='a'"}],"mark":{"type":"text","align":"left","baseline":"middle","fontSize":14,"font":"DejaVu Sans","color":"black"},"encoding":{"x":{"datum":-18.4,"type":"quantitative"},"y":{"datum":603,"type":"quantitative"},"text":{"field":"n"}}},
{"transform":[{"filter":"datum.k=='a'"}],"mark":{"type":"text","align":"left","baseline":"middle","fontSize":14,"font":"DejaVu Sans","color":"black"},"encoding":{"x":{"datum":-18.4,"type":"quantitative"},"y":{"datum":522,"type":"quantitative"},"text":{"field":"a1"}}},
{"transform":[{"filter":"datum.k=='a'"}],"mark":{"type":"text","align":"left","baseline":"middle","fontSize":14,"font":"DejaVu Sans","color":"black"},"encoding":{"x":{"datum":-18.4,"type":"quantitative"},"y":{"datum":437,"type":"quantitative"},"text":{"field":"a2"}}},
{"transform":[{"filter":"datum.k=='a'"}],"mark":{"type":"text","align":"right","baseline":"middle","fontSize":14,"font":"DejaVu Sans","color":"#f03c3c"},"encoding":{"x":{"datum":33.6,"type":"quantitative"},"y":{"datum":603,"type":"quantitative"},"text":{"field":"rp"}}},
{"transform":[{"filter":"datum.k=='a'"}],"mark":{"type":"text","align":"right","baseline":"middle","fontSize":14,"font":"DejaVu Sans","color":"black"},"encoding":{"x":{"datum":33.6,"type":"quantitative"},"y":{"datum":522,"type":"quantitative"},"text":{"field":"b1"}}},
{"transform":[{"filter":"datum.k=='a'"}],"mark":{"type":"text","align":"right","baseline":"middle","fontSize":14,"font":"DejaVu Sans","color":"black"},"encoding":{"x":{"datum":33.6,"type":"quantitative"},"y":{"datum":437,"type":"quantitative"},"text":{"field":"b2"}}},
{"transform":[{"filter":"datum.k=='a'"}],"mark":{"type":"text","align":"left","baseline":"middle","fontSize":14,"font":"DejaVu Sans","color":"black"},"encoding":{"x":{"datum":-18.4,"type":"quantitative"},"y":{"datum":-225,"type":"quantitative"},"text":{"field":"c1"}}},
{"transform":[{"filter":"datum.k=='a'"}],"mark":{"type":"text","align":"left","baseline":"middle","fontSize":14,"font":"DejaVu Sans","color":"black"},"encoding":{"x":{"datum":-18.4,"type":"quantitative"},"y":{"datum":-309,"type":"quantitative"},"text":{"field":"c2"}}},
{"transform":[{"filter":"datum.k=='a'"}],"mark":{"type":"text","align":"right","baseline":"middle","fontSize":14,"font":"DejaVu Sans","color":"black"},"encoding":{"x":{"datum":33.6,"type":"quantitative"},"y":{"datum":-225,"type":"quantitative"},"text":{"field":"d1"}}},
{"transform":[{"filter":"datum.k=='a'"}],"mark":{"type":"text","align":"right","baseline":"middle","fontSize":14,"font":"DejaVu Sans","color":"black"},"encoding":{"x":{"datum":33.6,"type":"quantitative"},"y":{"datum":-309,"type":"quantitative"},"text":{"field":"d2"}}},
{"transform":[{"filter":"datum.k=='a'"}],"mark":{"type":"rect","fillOpacity":0,"stroke":"#7a7a7a","strokeWidth":1.3},"encoding":{"x":{"datum":-20,"type":"quantitative"},"x2":{"datum":35},"y":{"datum":-350,"type":"quantitative"},"y2":{"datum":650}}}
]
},
"config":{
"font":"DejaVu Sans",
"view":{"stroke":null},
"axis":{"grid":false,"domain":false,"tickColor":"#333","tickSize":5,"tickWidth":1,"labelFont":"DejaVu Sans","labelFontSize":14,"labelColor":"#111","labelPadding":3,"labelOverlap":false,"labelFlush":false},
"header":{"titleFont":"DejaVu Sans","titleFontSize":15,"titleFontWeight":"normal","titleColor":"#111"},
"text":{"font":"DejaVu Sans"}
}
}
